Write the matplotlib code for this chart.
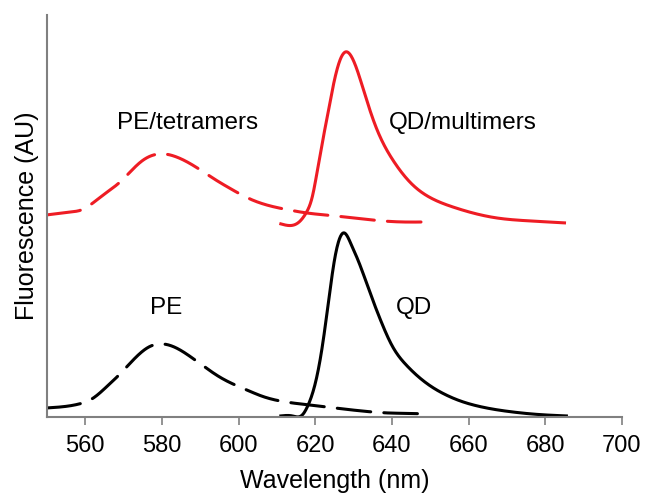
import matplotlib
matplotlib.use("Agg")
import matplotlib.pyplot as plt
import numpy as np

# ---- data (wavelength nm, fluorescence AU) ----
pe_wl = [550, 558.4, 561.7, 565.5, 569.3, 572, 576.6, 580, 583.7, 587.5, 591.5,
         595, 602.7, 605.9, 614, 618.4, 625, 632, 638.8, 645, 650]
pe_fl = [9, 13, 18, 30, 44, 55, 70, 73, 69, 60, 49,
         40, 26, 21, 14, 12, 9, 6, 4, 3.5, 3]

qd_wl = [611, 614, 616.6, 617.9, 620.2, 621.8, 623.6, 625, 626.2, 627.5, 629.4,
         631, 634.1, 637.1, 640.2, 643.7, 647.1, 650.6, 654.1, 657.1, 662.8,
         671.4, 678, 685.5]
qd_fl = [1, 1, 2, 10, 37, 70, 120, 157, 177, 184, 172,
         158, 126, 96, 70, 52, 39.5, 29.5, 22, 17, 10.5,
         5, 2.5, 1]

pet_wl = [550, 556.5, 559, 562, 565.4, 568.8, 574.8, 580, 583.7, 587.9, 594,
          597.5, 603.5, 613, 617.6, 625, 632, 641.9, 650]
pet_fl = [202, 205, 207, 214, 224, 234, 256, 263, 260, 252, 237,
          229, 217, 207, 204, 201, 198, 195, 195]

qdm_wl = [611, 615.8, 617.6, 619.2, 621, 623.1, 625, 626.8, 628, 629.6,
          632.8, 635.8, 640.2, 645.4, 650.6, 655.8, 661, 667.2, 675.8, 685]
qdm_fl = [193, 195, 204, 220, 257, 300, 337, 360, 365, 359,
          324, 290, 257, 232, 218, 210, 204, 199, 196, 194]

x_ticks = [560, 580, 600, 620, 640, 660, 680, 700]


def spline(x, y, n=800):
    """Natural cubic spline used only to draw a smooth line through the read points."""
    x = np.asarray(x, float)
    y = np.asarray(y, float)
    N = len(x)
    h = np.diff(x)
    A = np.zeros((N, N))
    b = np.zeros(N)
    A[0, 0] = A[-1, -1] = 1
    for i in range(1, N - 1):
        A[i, i - 1] = h[i - 1]
        A[i, i] = 2 * (h[i - 1] + h[i])
        A[i, i + 1] = h[i]
        b[i] = 3 * ((y[i + 1] - y[i]) / h[i] - (y[i] - y[i - 1]) / h[i - 1])
    c = np.linalg.solve(A, b)
    bb = (y[1:] - y[:-1]) / h - h * (2 * c[:-1] + c[1:]) / 3
    d = (c[1:] - c[:-1]) / (3 * h)
    xs = np.linspace(x[0], x[-1], n)
    idx = np.clip(np.searchsorted(x, xs) - 1, 0, N - 2)
    t = xs - x[idx]
    ys = y[idx] + bb[idx] * t + c[idx] * t**2 + d[idx] * t**3
    return xs, ys


plt.rcParams['font.family'] = ['Liberation Sans', 'DejaVu Sans']

fig = plt.figure(figsize=(6.46, 4.94), dpi=100)
ax = fig.add_axes([0.0728, 0.156, 0.890, 0.814])

red = '#ee1c24'
dash = (0, (11, 4.3))
lw = 2.2

ax.plot(*spline(pe_wl, pe_fl), color='black', lw=lw, linestyle=dash, dash_capstyle='round')
ax.plot(*spline(qd_wl, qd_fl), color='black', lw=lw)
ax.plot(*spline(pet_wl, pet_fl), color=red, lw=lw, linestyle=dash, dash_capstyle='round')
ax.plot(*spline(qdm_wl, qdm_fl), color=red, lw=lw)

fs_ann = 17.5
ax.text(586.6, 294, 'PE/tetramers', fontsize=fs_ann, ha='center', va='center')
ax.text(658.4, 294, 'QD/multimers', fontsize=fs_ann, ha='center', va='center')
ax.text(581, 109, 'PE', fontsize=fs_ann, ha='center', va='center')
ax.text(645.8, 109, 'QD', fontsize=fs_ann, ha='center', va='center')

ax.set_xlim(550, 700)
ax.set_ylim(0, 402)
ax.set_xticks(x_ticks)
ax.set_yticks([])
ax.tick_params(axis='x', direction='out', length=6, width=1.2, color='#808080',
               labelsize=17, pad=7)
for s in ['top', 'right']:
    ax.spines[s].set_visible(False)
for s in ['left', 'bottom']:
    ax.spines[s].set_color('#808080')
    ax.spines[s].set_linewidth(1.5)

ax.set_xlabel('Wavelength (nm)', fontsize=18, labelpad=9)
ax.set_ylabel('Fluorescence (AU)', fontsize=18, labelpad=6)

fig.savefig('out.png', dpi=100)
